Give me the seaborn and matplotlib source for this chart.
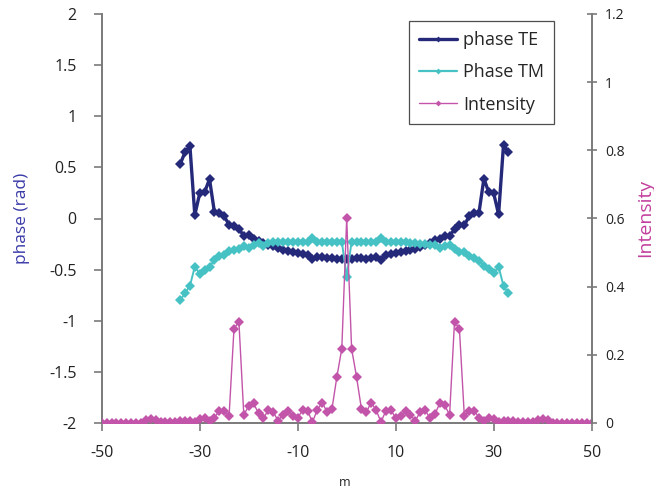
import numpy as np
import pandas as pd
import matplotlib
matplotlib.use("Agg")
import matplotlib.pyplot as plt
import seaborn as sns
from matplotlib.lines import Line2D

# ---------------- data ----------------
m_phase = list(range(-34, 34))
phase_te = [0.53, 0.647, 0.712, 0.034, 0.246, 0.256, 0.386, 0.064, 0.05, 0.02,
            -0.06, -0.073, -0.10, -0.171, -0.158, -0.197, -0.217, -0.236, -0.256, -0.269,
            -0.288, -0.308, -0.318, -0.327, -0.34, -0.35, -0.36, -0.40, -0.373, -0.38,
            -0.386, -0.389, -0.399, -0.399, -0.40, -0.393, -0.386, -0.386, -0.399, -0.389,
            -0.38, -0.405, -0.36, -0.347, -0.34, -0.327, -0.32, -0.308, -0.295, -0.282,
            -0.26, -0.236, -0.215, -0.197, -0.171, -0.171, -0.106, -0.067, -0.067, 0.024,
            0.057, 0.057, 0.39, 0.256, 0.246, 0.04, 0.72, 0.647]
phase_tm = [-0.80, -0.73, -0.66, -0.47, -0.54, -0.50, -0.47, -0.41, -0.37, -0.36,
            -0.32, -0.31, -0.30, -0.27, -0.29, -0.26, -0.24, -0.27, -0.24, -0.225,
            -0.225, -0.227, -0.23, -0.227, -0.23, -0.225, -0.228, -0.19, -0.23, -0.227,
            -0.23, -0.227, -0.228, -0.227, -0.57, -0.227, -0.23, -0.227, -0.228, -0.23,
            -0.227, -0.19, -0.228, -0.23, -0.227, -0.23, -0.228, -0.235, -0.24, -0.245,
            -0.25, -0.26, -0.26, -0.29, -0.27, -0.26, -0.30, -0.325, -0.325, -0.367,
            -0.383, -0.413, -0.465, -0.497, -0.536, -0.471, -0.66, -0.73]

m_int = list(range(-50, 51))
intensity = [0, 0, 0, 0, 0, 0, 0, 0, 0, 0.008,
             0.012, 0.01, 0.003, 0.003, 0.003, 0.003, 0.006, 0.006, 0.006, 0.003,
             0.012, 0.014, 0.005, 0.016, 0.036, 0.036, 0.022, 0.277, 0.297, 0.024,
             0.05, 0.058, 0.028, 0.014, 0.038, 0.032, 0.007, 0.024, 0.036, 0.02,
             0.015, 0.038, 0.036, 0.003, 0.038, 0.06, 0.032, 0.042, 0.136, 0.218,
             0.60,
             0.218, 0.136, 0.042, 0.032, 0.06, 0.038, 0.003, 0.036, 0.038, 0.015,
             0.02, 0.036, 0.024, 0.007, 0.032, 0.038, 0.014, 0.026, 0.058, 0.052,
             0.024, 0.297, 0.277, 0.022, 0.036, 0.036, 0.016, 0.006, 0.014, 0.012,
             0.003, 0.006, 0.006, 0.006, 0.003, 0.003, 0.003, 0.003, 0.01, 0.012,
             0.008, 0, 0, 0, 0, 0, 0, 0, 0, 0]

x_ticks = [-50, -30, -10, 10, 30, 50]
y_ticks = [-2, -1.5, -1, -0.5, 0, 0.5, 1, 1.5, 2]
y_ticklabels = ["-2", "-1.5", "-1", "-0.5", "0", "0.5", "1", "1.5", "2"]
y2_ticks = [0, 0.2, 0.4, 0.6, 0.8, 1.0, 1.2]
y2_ticklabels = ["0", "0.2", "0.4", "0.6", "0.8", "1", "1.2"]

# ---------------- style ----------------
sns.set_style("ticks")
plt.rcParams["font.family"] = ["Open Sans", "DejaVu Sans"]
plt.rcParams["axes.unicode_minus"] = False

c_te = "#25297a"
c_tm = "#47c2c4"
c_int = "#c254aa"
spine_c = "#7a7a7a"

fig = plt.figure(figsize=(6.54, 4.92), dpi=100)
ax = fig.add_axes([101.7 / 654, 1 - 423 / 492, (591.7 - 101.7) / 654, (423 - 14) / 492])
ax2 = ax.twinx()

df_te = pd.DataFrame({"m": m_phase, "v": phase_te})
df_tm = pd.DataFrame({"m": m_phase, "v": phase_tm})
df_i = pd.DataFrame({"m": m_int, "v": intensity})

sns.lineplot(data=df_te, x="m", y="v", ax=ax, color=c_te, linewidth=2.4,
             marker="D", markersize=4.6, markeredgewidth=0, legend=False)
sns.lineplot(data=df_tm, x="m", y="v", ax=ax, color=c_tm, linewidth=1.4,
             marker="D", markersize=4.6, markeredgewidth=0, legend=False)
sns.lineplot(data=df_i, x="m", y="v", ax=ax2, color=c_int, linewidth=1.0,
             marker="D", markersize=4.8, markeredgewidth=0, legend=False)

ax.set_xlim(-50, 50)
ax.set_ylim(-2, 2)
ax2.set_ylim(0, 1.2)
ax.set_xticks(x_ticks)
ax.set_xticklabels([str(v) for v in x_ticks])
ax.set_yticks(y_ticks)
ax.set_yticklabels(y_ticklabels)
ax2.set_yticks(y2_ticks)
ax2.set_yticklabels(y2_ticklabels)

for a in (ax, ax2):
    a.set_xlabel("")
    a.set_ylabel("")
    a.spines["top"].set_visible(False)
    for s in ("left", "right", "bottom"):
        a.spines[s].set_color(spine_c)
        a.spines[s].set_linewidth(1.4)
ax.spines["right"].set_visible(False)
ax2.spines["left"].set_visible(False)
ax2.spines["bottom"].set_visible(False)

ax.tick_params(axis="x", direction="out", length=6, width=1.2, color=spine_c,
               labelsize=11.5, pad=10, labelcolor="#222222")
ax.tick_params(axis="y", direction="out", length=6, width=1.2, color=spine_c,
               labelsize=11.5, pad=12, labelcolor="#222222")
ax2.tick_params(axis="y", direction="inout", length=7, width=1.2, color=spine_c,
                labelsize=10, pad=6, labelcolor="#222222")

fig.text(22 / 654, 1 - 218 / 492, "phase (rad)", rotation=90, ha="center",
         va="center", fontsize=12.5, color="#3a3aa8")
fig.text(636 / 654, 1 - 218 / 492, "Intensity", rotation=90, ha="left",
         va="center", fontsize=14, color="#c2409e")
fig.text(345 / 654, 1 - 482 / 492, "m", ha="center", va="center",
         fontsize=9, color="#222222")

handles = [
    Line2D([], [], color=c_te, linewidth=2.4, marker="D", markersize=3, markeredgewidth=0),
    Line2D([], [], color=c_tm, linewidth=1.6, marker="D", markersize=3, markeredgewidth=0),
    Line2D([], [], color=c_int, linewidth=1.0, marker="D", markersize=3, markeredgewidth=0),
]
leg = ax2.legend(handles, ["phase TE", "Phase TM", "Intensity"],
                 loc="upper left", bbox_to_anchor=((409 - 101.7) / 490, 1 - (21 - 14) / 409),
                 fontsize=13, frameon=True, fancybox=False, handlelength=2.1,
                 handletextpad=0.35, borderpad=0.55, labelspacing=0.8,
                 borderaxespad=0)
leg.get_frame().set_edgecolor("#222222")
leg.get_frame().set_linewidth(0.9)

fig.savefig("out.png", dpi=100, facecolor="white")
